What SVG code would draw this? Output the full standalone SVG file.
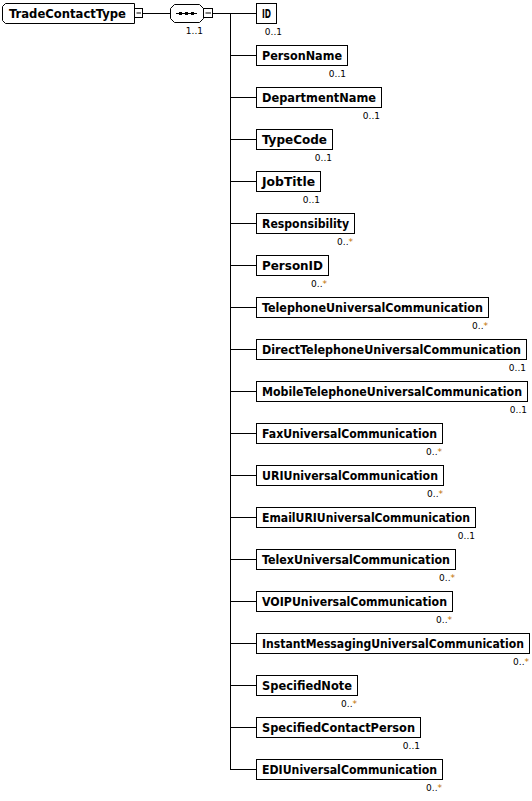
<svg xmlns="http://www.w3.org/2000/svg" width="532" height="801" viewBox="0 0 532 801">
<style>
.bx{fill:#fff;stroke:#000;stroke-width:1}
.t{font-family:"DejaVu Sans Condensed","DejaVu Sans",sans-serif;font-weight:bold;font-size:12px;fill:#000}
.c{font-family:"DejaVu Sans",sans-serif;font-size:9px;fill:#000;text-anchor:end}
.s{fill:#c07000}
.ln{stroke:#000;stroke-width:1;fill:none}
</style>
<rect width="532" height="801" fill="#fff"/>
<g id="connectors">
<path class="ln" d="M143,13.5H170M213,13.5H230M230.5,13V769"/>
<path class="ln" d="M230,13.5H256M230,55.5H256M230,97.5H256M230,139.5H256M230,181.5H256M230,223.5H256M230,265.5H256M230,307.5H256M230,349.5H256M230,391.5H256M230,433.5H256M230,475.5H256M230,517.5H256M230,559.5H256M230,601.5H256M230,643.5H256M230,685.5H256M230,727.5H256M230,769.5H256"/>
</g>
<g id="TradeContactType">
<path class="bx" d="M5.5,3.5H134.5V23.5H5.5L2.5,20.5V6.5Z"/>
<text class="t" x="9" y="18" textLength="117" lengthAdjust="spacingAndGlyphs">TradeContactType</text>
<rect class="bx" x="134.5" y="8.5" width="8" height="9"/>
<path class="ln" d="M136.5,13H141"/>
</g>
<g id="sequence">
<path class="bx" d="M174.5,4.5H199.5L203.5,8.5V18.5L199.5,22.5H174.5L170.5,18.5V8.5Z"/>
<path class="ln" d="M176,13.5H197"/>
<rect x="179" y="12" width="3" height="3" fill="#000"/>
<rect x="185" y="12" width="3" height="3" fill="#000"/>
<rect x="191" y="12" width="3" height="3" fill="#000"/>
<rect class="bx" x="203.5" y="8.5" width="9" height="9"/>
<path class="ln" d="M205.5,13H211"/>
<text class="c" x="203" y="34">1..1</text>
</g>
<g id="ID"><rect class="bx" x="256.5" y="3.5" width="20" height="20"/><text class="t" x="262" y="18" textLength="9" lengthAdjust="spacingAndGlyphs">ID</text><text class="c" x="282" y="35">0..1</text></g>
<g id="PersonName"><rect class="bx" x="256.5" y="45.5" width="91" height="20"/><text class="t" x="262" y="60" textLength="80" lengthAdjust="spacingAndGlyphs">PersonName</text><text class="c" x="346" y="77">0..1</text></g>
<g id="DepartmentName"><rect class="bx" x="256.5" y="87.5" width="125" height="20"/><text class="t" x="262" y="102" textLength="114" lengthAdjust="spacingAndGlyphs">DepartmentName</text><text class="c" x="380" y="119">0..1</text></g>
<g id="TypeCode"><rect class="bx" x="256.5" y="129.5" width="76" height="20"/><text class="t" x="262" y="144" textLength="65" lengthAdjust="spacingAndGlyphs">TypeCode</text><text class="c" x="332" y="161">0..1</text></g>
<g id="JobTitle"><rect class="bx" x="256.5" y="171.5" width="64" height="20"/><text class="t" x="262" y="186" textLength="53" lengthAdjust="spacingAndGlyphs">JobTitle</text><text class="c" x="320" y="203">0..1</text></g>
<g id="Responsibility"><rect class="bx" x="256.5" y="213.5" width="98" height="20"/><text class="t" x="262" y="228" textLength="87" lengthAdjust="spacingAndGlyphs">Responsibility</text><text class="c" x="353" y="245">0..<tspan class="s">*</tspan></text></g>
<g id="PersonID"><rect class="bx" x="256.5" y="255.5" width="72" height="20"/><text class="t" x="262" y="270" textLength="61" lengthAdjust="spacingAndGlyphs">PersonID</text><text class="c" x="327" y="287">0..<tspan class="s">*</tspan></text></g>
<g id="TelephoneUniversalCommunication"><rect class="bx" x="256.5" y="297.5" width="232" height="20"/><text class="t" x="262" y="312" textLength="221" lengthAdjust="spacingAndGlyphs">TelephoneUniversalCommunication</text><text class="c" x="488" y="329">0..<tspan class="s">*</tspan></text></g>
<g id="DirectTelephoneUniversalCommunication"><rect class="bx" x="256.5" y="339.5" width="270" height="20"/><text class="t" x="262" y="354" textLength="259" lengthAdjust="spacingAndGlyphs">DirectTelephoneUniversalCommunication</text><text class="c" x="526" y="371">0..1</text></g>
<g id="MobileTelephoneUniversalCommunication"><rect class="bx" x="256.5" y="381.5" width="271" height="20"/><text class="t" x="262" y="396" textLength="260" lengthAdjust="spacingAndGlyphs">MobileTelephoneUniversalCommunication</text><text class="c" x="527" y="413">0..1</text></g>
<g id="FaxUniversalCommunication"><rect class="bx" x="256.5" y="423.5" width="186" height="20"/><text class="t" x="262" y="438" textLength="175" lengthAdjust="spacingAndGlyphs">FaxUniversalCommunication</text><text class="c" x="442" y="455">0..<tspan class="s">*</tspan></text></g>
<g id="URIUniversalCommunication"><rect class="bx" x="256.5" y="465.5" width="187" height="20"/><text class="t" x="262" y="480" textLength="176" lengthAdjust="spacingAndGlyphs">URIUniversalCommunication</text><text class="c" x="443" y="497">0..<tspan class="s">*</tspan></text></g>
<g id="EmailURIUniversalCommunication"><rect class="bx" x="256.5" y="507.5" width="219" height="20"/><text class="t" x="262" y="522" textLength="208" lengthAdjust="spacingAndGlyphs">EmailURIUniversalCommunication</text><text class="c" x="475" y="539">0..1</text></g>
<g id="TelexUniversalCommunication"><rect class="bx" x="256.5" y="549.5" width="199" height="20"/><text class="t" x="262" y="564" textLength="188" lengthAdjust="spacingAndGlyphs">TelexUniversalCommunication</text><text class="c" x="455" y="581">0..<tspan class="s">*</tspan></text></g>
<g id="VOIPUniversalCommunication"><rect class="bx" x="256.5" y="591.5" width="196" height="20"/><text class="t" x="262" y="606" textLength="185" lengthAdjust="spacingAndGlyphs">VOIPUniversalCommunication</text><text class="c" x="452" y="623">0..<tspan class="s">*</tspan></text></g>
<g id="InstantMessagingUniversalCommunication"><rect class="bx" x="256.5" y="633.5" width="273" height="20"/><text class="t" x="262" y="648" textLength="262" lengthAdjust="spacingAndGlyphs">InstantMessagingUniversalCommunication</text><text class="c" x="529" y="665">0..<tspan class="s">*</tspan></text></g>
<g id="SpecifiedNote"><rect class="bx" x="256.5" y="675.5" width="101" height="20"/><text class="t" x="262" y="690" textLength="90" lengthAdjust="spacingAndGlyphs">SpecifiedNote</text><text class="c" x="357" y="707">0..<tspan class="s">*</tspan></text></g>
<g id="SpecifiedContactPerson"><rect class="bx" x="256.5" y="717.5" width="164" height="20"/><text class="t" x="262" y="732" textLength="153" lengthAdjust="spacingAndGlyphs">SpecifiedContactPerson</text><text class="c" x="420" y="749">0..1</text></g>
<g id="EDIUniversalCommunication"><rect class="bx" x="256.5" y="759.5" width="186" height="20"/><text class="t" x="262" y="774" textLength="175" lengthAdjust="spacingAndGlyphs">EDIUniversalCommunication</text><text class="c" x="442" y="791">0..<tspan class="s">*</tspan></text></g>
</svg>
